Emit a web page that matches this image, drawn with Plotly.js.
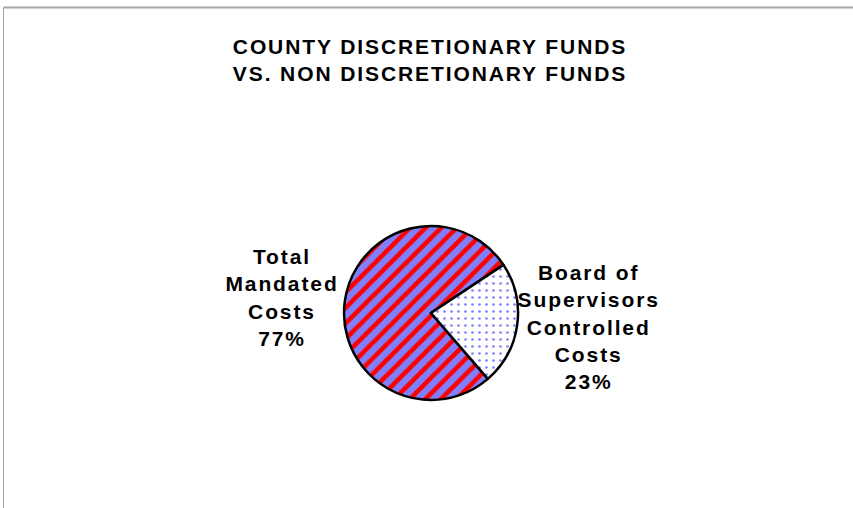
<!DOCTYPE html>
<html>
<head>
<meta charset="utf-8">
<script src="https://cdn.plot.ly/plotly-3.0.1.min.js"></script>
<style>
html,body{margin:0;padding:0;background:#fff;}
#chart{width:853px;height:508px;}
#chart text{letter-spacing:1.9px;}
</style>
</head>
<body>
<div id="chart"></div>
<script>
var labels = ["Total<br>Mandated<br>Costs", "Board of<br>Supervisors<br>Controlled<br>Costs"];
var values = [77, 23];
var patternShapes = ["/", "."];
var patternFg = ["#ff0000", "#8080ff"];
var patternBg = ["#8080ff", "#ffffff"];
var titleLines = ["COUNTY DISCRETIONARY FUNDS", "VS. NON DISCRETIONARY FUNDS"];

var W = 853, H = 508;
var cx = 431, cy = 313, r = 87;
var FONT = "Liberation Sans, Arial, sans-serif";

var trace = {
  type: "pie",
  labels: labels,
  values: values,
  sort: false,
  direction: "clockwise",
  rotation: 139.2,
  textinfo: "none",
  hoverinfo: "none",
  showlegend: false,
  domain: {
    x: [(cx - r) / W, (cx + r) / W],
    y: [1 - (cy + r) / H, 1 - (cy - r) / H]
  },
  marker: {
    colors: patternBg,
    line: {color: "#000", width: 2.5},
    pattern: {
      shape: patternShapes,
      fgcolor: patternFg,
      bgcolor: patternBg,
      fgopacity: 1,
      fillmode: "overlay",
      size: [11, 7],
      solidity: [0.42, 0.12]
    }
  }
};

// label anchor positions (pixel centres of the text blocks)
var labelPos = [[282, 297], [588, 327]];
var total = values.reduce(function (a, b) { return a + b; }, 0);
var annotations = labels.map(function (lab, i) {
  return {
    xref: "paper", yref: "paper",
    x: labelPos[i][0] / W, y: 1 - labelPos[i][1] / H,
    xanchor: "center", yanchor: "middle",
    showarrow: false,
    align: "center",
    text: "<b>" + lab + "<br>" + Math.round(values[i] / total * 100) + "%</b>",
    font: {family: FONT, size: 21, color: "#000"}
  };
});

var layout = {
  width: W, height: H,
  margin: {l: 0, r: 0, t: 0, b: 0},
  paper_bgcolor: "#fff",
  plot_bgcolor: "#fff",
  font: {family: FONT, color: "#000"},
  title: {
    text: "<b>" + titleLines.join("<br>") + "</b>",
    font: {family: FONT, size: 21, color: "#000"},
    x: 430 / W, xanchor: "center",
    y: 1 - 54 / H, yanchor: "top",
    yref: "container", xref: "container"
  },
  annotations: annotations,
  shapes: [
    {type: "line", xref: "paper", yref: "paper", x0: 3.5 / W, x1: 1, y0: 1 - 7.5 / H, y1: 1 - 7.5 / H,
     line: {color: "#a6a6a6", width: 2}},
    {type: "line", xref: "paper", yref: "paper", x0: 3.5 / W, x1: 3.5 / W, y0: 0, y1: 1 - 7.5 / H,
     line: {color: "#a6a6a6", width: 1}}
  ]
};

Plotly.newPlot("chart", [trace], layout, {staticPlot: true, displayModeBar: false});
</script>
</body>
</html>
